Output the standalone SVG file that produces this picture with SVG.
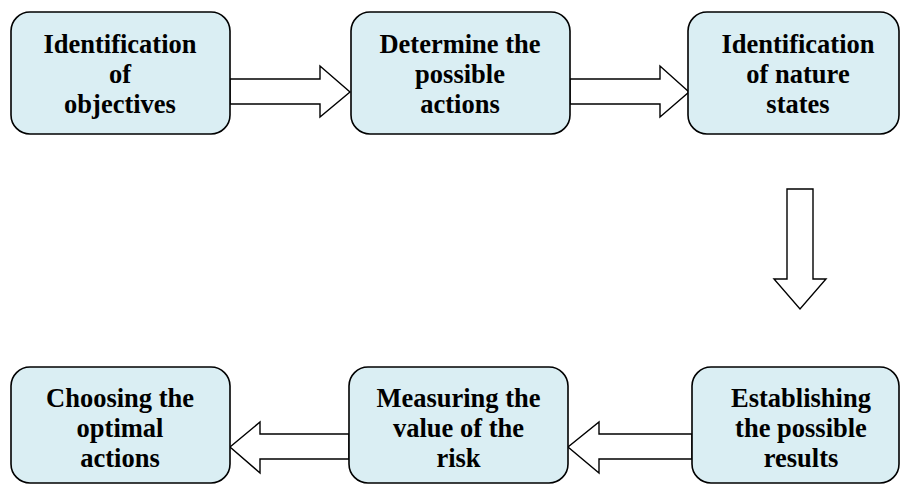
<svg xmlns="http://www.w3.org/2000/svg" width="900" height="484" viewBox="0 0 900 484">
<style>
.box{fill:#DAEEF3;stroke:#000;stroke-width:1.6}
.arr{fill:#fff;stroke:#000;stroke-width:1.4;stroke-linejoin:miter}
.t{font-family:'Liberation Serif','Times New Roman',serif;font-weight:700;font-size:26.5px;fill:#000;text-anchor:middle}
</style>
<rect width="900" height="484" fill="#fff"/>
<g id="connectors">
<polygon class="arr" points="230,79 320,79 320,66 350,92 320,117 320,104 230,104"/>
<polygon class="arr" points="570,79 660,79 660,66 689,92 660,117 660,104 570,104"/>
<polygon class="arr" points="787,189 813,189 813,279 826,279 800,309 774,279 787,279"/>
<polygon class="arr" points="692,434 599,434 599,422 568,447 599,473 599,459 692,459"/>
<polygon class="arr" points="349,434 260,434 260,422 230,447 260,473 260,459 349,459"/>
</g>
<g id="n1">
<rect class="box" x="11" y="12" width="219" height="122" rx="19"/>
<text class="t" x="120" y="53">Identification</text>
<text class="t" x="120" y="83">of</text>
<text class="t" x="120" y="113">objectives</text>
</g>
<g id="n2">
<rect class="box" x="351" y="12" width="219" height="122" rx="19"/>
<text class="t" x="460" y="53">Determine the</text>
<text class="t" x="460" y="83">possible</text>
<text class="t" x="460" y="113">actions</text>
</g>
<g id="n3">
<rect class="box" x="688" y="12" width="211" height="122" rx="19"/>
<text class="t" x="798" y="53">Identification</text>
<text class="t" x="798" y="83">of nature</text>
<text class="t" x="798" y="113">states</text>
</g>
<g id="n4">
<rect class="box" x="692" y="367" width="207" height="116" rx="19"/>
<text class="t" x="801" y="407">Establishing</text>
<text class="t" x="801" y="437">the possible</text>
<text class="t" x="801" y="467">results</text>
</g>
<g id="n5">
<rect class="box" x="349" y="367" width="219" height="116" rx="19"/>
<text class="t" x="458.5" y="407">Measuring the</text>
<text class="t" x="458.5" y="437">value of the</text>
<text class="t" x="458.5" y="467">risk</text>
</g>
<g id="n6">
<rect class="box" x="11" y="367" width="219" height="116" rx="19"/>
<text class="t" x="120" y="407">Choosing the</text>
<text class="t" x="120" y="437">optimal</text>
<text class="t" x="120" y="467">actions</text>
</g>
</svg>
